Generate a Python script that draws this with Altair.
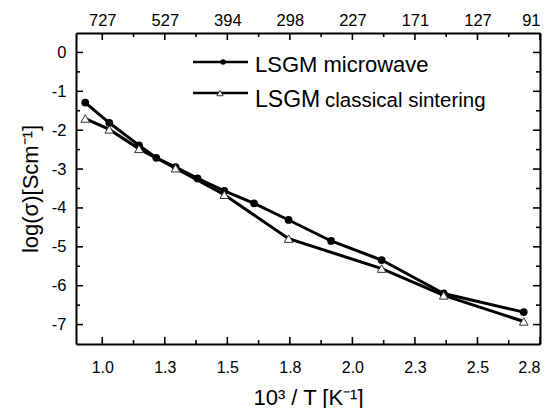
import json
import altair as alt
import pandas as pd

# ---- data ----
mw_x = [0.932, 1.028, 1.147, 1.216, 1.293, 1.381, 1.488, 1.607, 1.745, 1.915, 2.117, 2.365, 2.685]
mw_y = [-1.29, -1.81, -2.39, -2.71, -2.95, -3.24, -3.56, -3.88, -4.31, -4.85, -5.34, -6.20, -6.68]
cs_x = [0.932, 1.028, 1.147, 1.293, 1.488, 1.745, 2.117, 2.365, 2.685]
cs_y = [-1.70, -1.98, -2.48, -2.98, -3.66, -4.79, -5.56, -6.25, -6.92]
series_names = ["LSGM microwave", "LSGM classical sintering"]

x_major = [1.0, 1.25, 1.5, 1.75, 2.0, 2.25, 2.5, 2.75]
x_minor = [1.125, 1.375, 1.625, 1.875, 2.125, 2.375, 2.625]
bottom_labels = ["1.0", "1.3", "1.5", "1.8", "2.0", "2.3", "2.5", "2.8"]
top_labels = ["727", "527", "394", "298", "227", "171", "127", "91"]
y_major = [-7, -6, -5, -4, -3, -2, -1, 0]
y_minor = [-6.5, -5.5, -4.5, -3.5, -2.5, -1.5, -0.5]

FONT = "Liberation Sans"
W, H = 464, 311
MAJ, MIN = 7, 4
X0, X1 = 0.895, 2.75
Y0, Y1 = -7.5, 0.5
xs = alt.Scale(domain=[X0, X1], nice=False, zero=False)
ys = alt.Scale(domain=[Y0, Y1], nice=False, zero=False)

# one table: data rows + frame-tick rows (tick length converted from px to data units)
px_x = (X1 - X0) / W
px_y = (Y1 - Y0) / H
rows = []
for name, xv, yv in [(series_names[0], mw_x, mw_y), (series_names[1], cs_x, cs_y)]:
    for a, b in zip(xv, yv):
        rows.append({"kind": name, "x": a, "y": b})
for vals, ln in [(x_major, MAJ), (x_minor, MIN)]:
    for v in vals:
        rows.append({"kind": "tick", "x": v, "x2": v, "y": Y0, "y2": Y0 + ln * px_y})
        rows.append({"kind": "tick", "x": v, "x2": v, "y": Y1, "y2": Y1 - ln * px_y})
for vals, ln in [(y_major, MAJ), (y_minor, MIN)]:
    for v in vals:
        rows.append({"kind": "tick", "x": X0, "x2": X0 + ln * px_x, "y": v, "y2": v})
        rows.append({"kind": "tick", "x": X1, "x2": X1 - ln * px_x, "y": v, "y2": v})
df = pd.DataFrame(rows)


def xlabel_expr(arr):
    return f"{json.dumps(arr)}[round((datum.value-1)*4)]"


common = dict(domainColor="black", domainWidth=2, ticks=False,
              labelFont=FONT, labelColor="black", titleFont=FONT, titleColor="black",
              grid=False)

x_bottom = alt.Axis(values=x_major, labelExpr=xlabel_expr(bottom_labels),
                    labelFontSize=16, labelPadding=15,
                    title="10³ / T [K⁻¹]", titleFontSize=22, titleFontWeight="normal",
                    titleX=232, titleY=60, titleAlign="center", titleBaseline="alphabetic",
                    orient="bottom", **common)
x_top = alt.Axis(values=x_major, labelExpr=xlabel_expr(top_labels),
                 labelFontSize=16.5, labelPadding=5, title=None,
                 orient="top", **common)
y_left = alt.Axis(values=y_major, labelExpr="'' + datum.value",
                  labelFontSize=16.5, labelPadding=10,
                  title="log(σ)[Scm⁻¹]", titleFontSize=22, titleFontWeight="normal",
                  titleX=-46, titleY=H / 2, titleAlign="center", titleBaseline="middle",
                  titleAngle=-90,
                  orient="left", **common)
y_right = alt.Axis(values=y_major, labels=False, title=None, orient="right", **common)

base = alt.Chart(df)
is_data = (alt.datum.kind == series_names[0]) | (alt.datum.kind == series_names[1])

lines = base.transform_filter(is_data).mark_line(color="black", strokeWidth=3).encode(
    x=alt.X("x:Q", scale=xs, axis=x_bottom),
    y=alt.Y("y:Q", scale=ys, axis=y_left),
    detail="kind:N",
    order="x:Q",
)

circles = base.transform_filter(alt.datum.kind == series_names[0]).mark_point(
    shape="circle", filled=True, color="black", size=60, opacity=1
).encode(x=alt.X("x:Q", scale=xs, axis=None), y=alt.Y("y:Q", scale=ys, axis=None))

triangles = base.transform_filter(alt.datum.kind == series_names[1]).mark_point(
    shape="triangle-up", filled=True, fill="white", stroke="#333333", strokeWidth=1,
    size=75, opacity=1
).encode(x=alt.X("x:Q", scale=xs, axis=None), y=alt.Y("y:Q", scale=ys, axis=None))

frame = base.transform_filter(is_data).mark_point(opacity=0).encode(
    x=alt.X("x:Q", scale=xs, axis=x_top),
    y=alt.Y("y:Q", scale=ys, axis=y_right),
)

ticks = base.transform_filter(alt.datum.kind == "tick").mark_rule(
    color="black", strokeWidth=1.6, opacity=1
).encode(
    x=alt.X("x:Q", scale=xs, axis=None), x2="x2:Q",
    y=alt.Y("y:Q", scale=ys, axis=None), y2="y2:Q",
)

# ---- manual legend ----
leg = alt.Chart(pd.DataFrame({"series": series_names}))
leg_line1 = leg.transform_filter(alt.datum.series == series_names[0]).mark_rule(
    color="black", strokeWidth=2.5).encode(x=alt.value(117), x2=alt.value(172), y=alt.value(29))
leg_line2 = leg.transform_filter(alt.datum.series == series_names[1]).mark_rule(
    color="black", strokeWidth=2.5).encode(x=alt.value(117), x2=alt.value(172), y=alt.value(60))
leg_pt1 = leg.transform_filter(alt.datum.series == series_names[0]).mark_point(
    shape="circle", filled=True, color="black", size=30, opacity=1
).encode(x=alt.value(147), y=alt.value(29))
leg_pt2 = leg.transform_filter(alt.datum.series == series_names[1]).mark_point(
    shape="triangle-up", filled=True, fill="white", stroke="#333333", strokeWidth=1,
    size=40, opacity=1
).encode(x=alt.value(144), y=alt.value(60))
leg_t1 = leg.transform_filter(alt.datum.series == series_names[0]).mark_text(
    align="left", baseline="alphabetic", font=FONT, fontSize=22, color="black"
).encode(x=alt.value(179), y=alt.value(39), text="series:N")
leg_t2a = leg.transform_filter(alt.datum.series == series_names[1]).mark_text(
    align="left", baseline="alphabetic", font=FONT, fontSize=23, color="black",
    text="LSGM"
).encode(x=alt.value(179), y=alt.value(74))
leg_t2b = leg.transform_filter(alt.datum.series == series_names[1]).mark_text(
    align="left", baseline="alphabetic", font=FONT, fontSize=20.5, color="black",
    text="classical sintering"
).encode(x=alt.value(249), y=alt.value(74))

chart = alt.layer(
    lines, circles, triangles, frame, ticks,
    leg_line1, leg_line2, leg_pt1, leg_pt2, leg_t1, leg_t2a, leg_t2b,
).resolve_axis(x="independent", y="independent").properties(
    width=W, height=H,
    autosize=alt.AutoSizeParams(type="none"),
    padding={"left": 76, "top": 33, "right": 13, "bottom": 64},
    background="white",
).configure_view(stroke=None)

chart.save("out.html", embed_options={"renderer": "svg", "actions": False})
